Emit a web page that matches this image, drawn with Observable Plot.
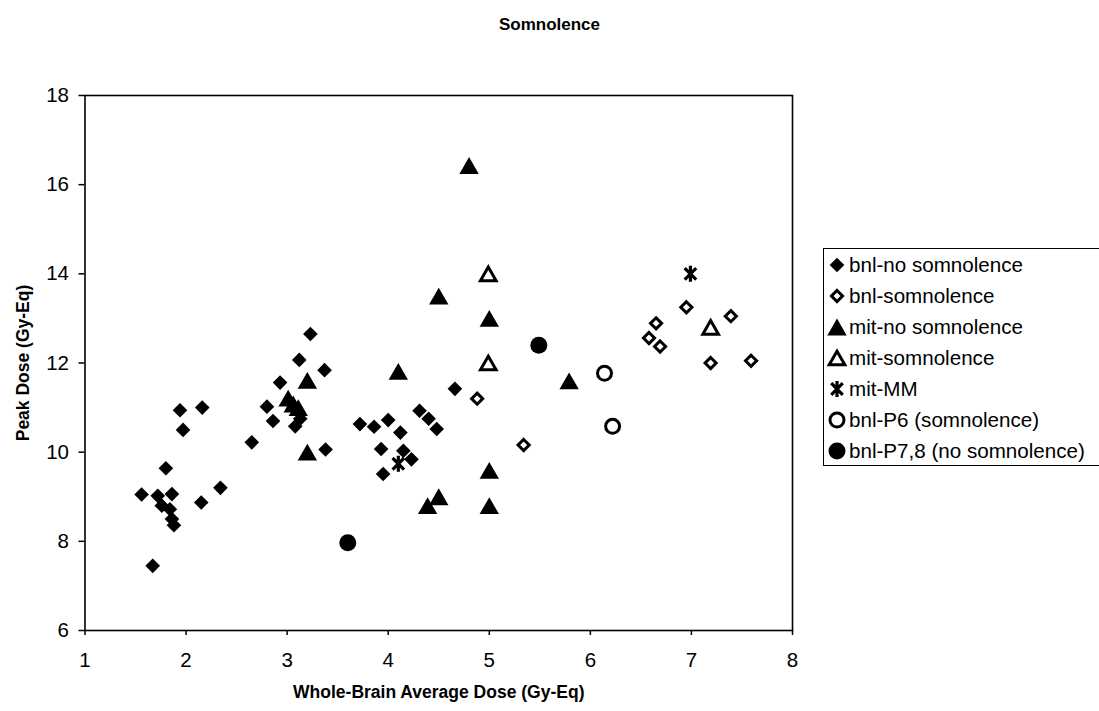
<!DOCTYPE html>
<html>
<head>
<meta charset="utf-8">
<script src="https://cdn.jsdelivr.net/npm/d3@7"></script>
<script src="https://cdn.jsdelivr.net/npm/@observablehq/plot@0.6"></script>
<style>
  html, body { margin: 0; padding: 0; background: white; }
  #wrap { position: relative; width: 1099px; height: 711px; overflow: hidden; font-family: "Liberation Sans", Arial, sans-serif; color: black; }
  #title { position: absolute; left: 0; top: 15px; width: 1099px; text-align: center; font-weight: bold; font-size: 17px; line-height: 20px; }
  #chart { position: absolute; left: 0; top: 58px; }
  #legend { position: absolute; left: 823px; top: 248px; width: 300px; height: 218px; border: 1.5px solid black; border-right: none; box-sizing: border-box; padding-top: 0px; }
  .item { display: flex; align-items: center; height: 31px; font-size: 20.6px; white-space: nowrap; }
  .item svg { margin-left: 1px; flex: none; }
</style>
</head>
<body>
<div id="wrap">
  <div id="title">Somnolence</div>
  <div id="chart"></div>
  <div id="legend"></div>
</div>
<script>
// ---- data ----
const xTicks = [1, 2, 3, 4, 5, 6, 7, 8];
const yTicks = [6, 8, 10, 12, 14, 16, 18];
const xLabel = "Whole-Brain Average Dose (Gy-Eq)";
const yLabel = "Peak Dose (Gy-Eq)";
const seriesNames = ["bnl-no somnolence", "bnl-somnolence", "mit-no somnolence", "mit-somnolence", "mit-MM", "bnl-P6 (somnolence)", "bnl-P7,8 (no somnolence)"];

const bnlNoSomnolence = [
  [1.56, 9.05], [1.67, 7.45], [1.72, 9.02], [1.76, 8.80], [1.80, 9.64], [1.84, 8.72],
  [1.86, 9.06], [1.86, 8.50], [1.88, 8.36], [1.94, 10.94], [1.97, 10.50], [2.15, 8.87],
  [2.16, 11.00], [2.34, 9.20], [2.65, 10.22], [2.80, 11.02], [2.86, 10.70], [2.93, 11.56],
  [3.08, 10.58], [3.13, 10.75], [3.12, 12.07], [3.23, 12.65], [3.37, 11.84], [3.38, 10.06],
  [3.72, 10.63], [3.86, 10.57], [3.93, 10.07], [3.95, 9.51], [4.00, 10.72], [4.12, 10.44],
  [4.15, 10.03], [4.23, 9.84], [4.31, 10.93], [4.40, 10.75], [4.48, 10.52], [4.66, 11.42]
];
const bnlSomnolence = [
  [4.88, 11.20], [5.34, 10.16], [6.58, 12.56], [6.65, 12.89], [6.69, 12.37],
  [6.95, 13.25], [7.19, 12.00], [7.39, 13.05], [7.59, 12.05]
];
const mitNoSomnolence = [
  [3.01, 11.21], [3.06, 11.08], [3.11, 11.00], [3.20, 11.61], [3.20, 10.00],
  [4.10, 11.81], [4.39, 8.80], [4.50, 9.00], [4.50, 13.50], [4.80, 16.43],
  [5.00, 13.00], [5.00, 9.59], [5.00, 8.80], [5.79, 11.60]
];
const mitSomnolence = [[4.99, 14.0], [4.99, 12.0], [7.19, 12.8]];
const mitMM = [[4.10, 9.74], [6.99, 14.0]];
const bnlP6 = [[6.14, 11.77], [6.22, 10.58]];
const bnlP78 = [[3.60, 7.97], [5.49, 12.40]];

// Excel-style asterisk: vertical bar plus an X
const excelStar = {
  draw(context, size) {
    const r = Math.sqrt(size / Math.PI), s = r * 0.72;
    context.moveTo(0, -r); context.lineTo(0, r);
    context.moveTo(-s, -s); context.lineTo(s, s);
    context.moveTo(-s, s); context.lineTo(s, -s);
  }
};

const styles = [
  {data: bnlNoSomnolence, symbol: "diamond2", r: 6.6, fill: "black", stroke: "none", strokeWidth: 0, dy: 0},
  {data: bnlSomnolence, symbol: "diamond2", r: 5, fill: "white", stroke: "black", strokeWidth: 3, dy: 0},
  {data: mitNoSomnolence, symbol: "triangle", r: 7.2, fill: "black", stroke: "none", strokeWidth: 0, dy: 2.8},
  {data: mitSomnolence, symbol: "triangle", r: 5.8, fill: "white", stroke: "black", strokeWidth: 3, dy: 2.3},
  {data: mitMM, symbol: excelStar, r: 8, fill: "none", stroke: "black", strokeWidth: 3.2, dy: 0},
  {data: bnlP6, symbol: "circle", r: 7, fill: "white", stroke: "black", strokeWidth: 3, dy: 0},
  {data: bnlP78, symbol: "circle", r: 8.5, fill: "black", stroke: "none", strokeWidth: 0, dy: 0}
];

const dotMarks = styles.map(s => Plot.dot(s.data, {
  x: d => d[0], y: d => d[1], symbol: s.symbol, r: s.r,
  fill: s.fill, stroke: s.stroke, strokeWidth: s.strokeWidth, dy: s.dy
}));

const chart = Plot.plot({
  width: 820,
  height: 653,
  marginTop: 37,
  marginBottom: 81,
  marginLeft: 84.5,
  marginRight: 28,
  x: {domain: [1, 8]},
  y: {domain: [6, 18]},
  style: {fontFamily: "'Liberation Sans', Arial, sans-serif", fontSize: "20px", color: "black", background: "white"},
  marks: [
    Plot.axisX({ticks: xTicks, tickSize: 5, tickPadding: 17, label: null, fontSize: 20.5, strokeWidth: 1.5, tickFormat: d => String(d)}),
    Plot.axisY({ticks: yTicks, tickSize: 6, tickPadding: 10, label: null, fontSize: 20.5, strokeWidth: 1.5, tickFormat: d => String(d)}),
    ...dotMarks,
    Plot.frame({stroke: "black", strokeWidth: 1.6}),
    Plot.text([xLabel], {frameAnchor: "bottom", dy: 67, fontWeight: "bold", fontSize: 17.5, textAnchor: "middle"}),
    Plot.text([yLabel], {frameAnchor: "left", dx: -62, rotate: -90, fontWeight: "bold", fontSize: 17.5, textAnchor: "middle"})
  ]
});
document.getElementById("chart").appendChild(chart);

// ---- legend ----
const legend = d3.select("#legend");
seriesNames.forEach((name, i) => {
  const s = styles[i];
  const item = legend.append("div").attr("class", "item");
  const svg = item.append("svg").attr("width", 24).attr("height", 24);
  const rr = s.r * 1.0;
  const type = typeof s.symbol === "string"
    ? {diamond2: d3.symbolDiamond2, triangle: d3.symbolTriangle, circle: d3.symbolCircle}[s.symbol]
    : s.symbol;
  svg.append("path")
    .attr("transform", `translate(12,${12 + s.dy})`)
    .attr("d", d3.symbol(type, Math.PI * rr * rr)())
    .attr("fill", s.fill)
    .attr("stroke", s.stroke)
    .attr("stroke-width", s.strokeWidth);
  item.append("span").text(name);
});
</script>
</body>
</html>
